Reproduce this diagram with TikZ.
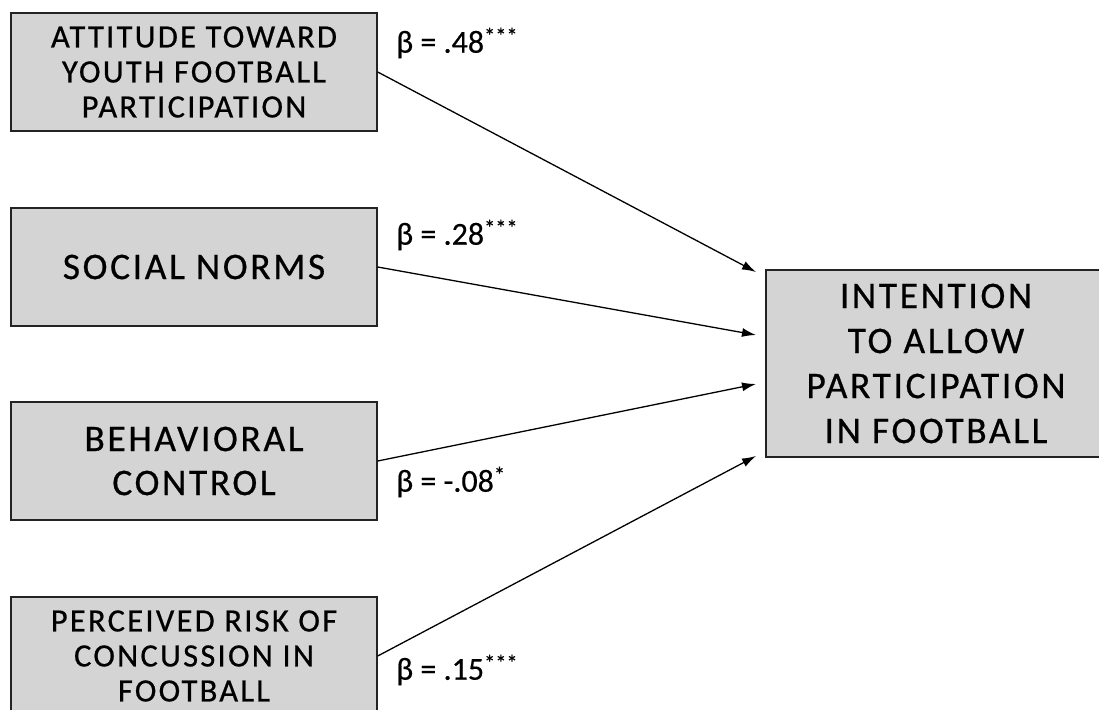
\documentclass[tikz,border=0pt]{standalone}
\usepackage{fontspec}
\usepackage{xcolor}
\usepackage{tikz}
\usetikzlibrary{arrows.meta,positioning,calc}
\setmainfont{Carlito}
\newfontfamily\boxfont[LetterSpace=7,FakeBold=0.6]{Carlito}
\newfontfamily\betafont[FakeBold=0.4]{Carlito}
\definecolor{boxgray}{RGB}{212,212,212}
\definecolor{edgegray}{RGB}{35,35,35}

\begin{document}
\begin{tikzpicture}[x=1pt, y=-1pt,
    factor/.style={draw=edgegray, line width=1.4pt, fill=boxgray, minimum width=366pt, minimum height=118pt, align=center, inner sep=0pt},
    link/.style={line width=1.3pt, -{Latex[length=14pt,width=9pt]}},
    beta/.style={anchor=west, inner sep=0pt, font=\betafont\fontsize{32}{32}\selectfont}]
    \useasboundingbox (0,0) rectangle (1099,709);

    % predictors
    \node[factor, font=\boxfont\fontsize{32.5}{35}\selectfont] (attitude) at (194,72) {ATTITUDE TOWARD\\YOUTH FOOTBALL\\PARTICIPATION};
    \node[factor, font=\boxfont\fontsize{37.5}{44}\selectfont] (norms) at (194,267) {SOCIAL NORMS};
    \node[factor, font=\boxfont\fontsize{37.5}{44}\selectfont] (control) at (194,461) {BEHAVIORAL\\CONTROL};
    \node[factor, font=\boxfont\fontsize{32.5}{35}\selectfont] (risk) at (194,656) {PERCEIVED RISK OF\\CONCUSSION IN\\FOOTBALL};

    % outcome
    \node[factor, minimum width=340pt, minimum height=187pt, font=\boxfont\fontsize{37.5}{45}\selectfont] (intention) at (936,363.5) {INTENTION\\TO ALLOW\\PARTICIPATION\\IN FOOTBALL};

    \coordinate (inA) at (756,272);
    \coordinate (inB) at (756,335);
    \coordinate (inC) at (756,384);
    \coordinate (inD) at (756,456);

    \draw[link] (attitude.east) -- (inA);
    \draw[link] (norms.east) -- (inB);
    \draw[link] (control.east) -- (inC);
    \draw[link] (risk.east) -- (inD);

    % coefficients
    \node[beta] (betaA) at (396,43) {β = .48\textsuperscript{***}};
    \node[beta] (betaB) at (396,235) {β = .28\textsuperscript{***}};
    \node[beta] (betaC) at (396,482) {β = -.08\textsuperscript{*}};
    \node[beta] (betaD) at (396,670) {β = .15\textsuperscript{***}};
\end{tikzpicture}
\end{document}
